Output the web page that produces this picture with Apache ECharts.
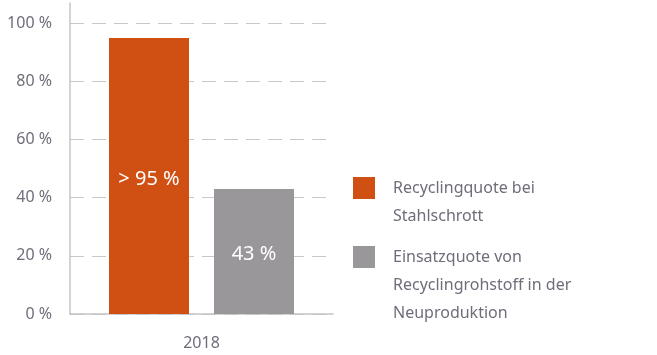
<!DOCTYPE html>
<html><head><meta charset="utf-8">
<script src="https://cdn.jsdelivr.net/npm/echarts@6/dist/echarts.min.js"></script>
<style>html,body{margin:0;padding:0;background:#fff}#c{width:657px;height:355px}</style>
</head><body><div id="c"></div>
<script>
const categories = ['2018'];
const seriesNames = ['Recyclingquote bei Stahlschrott', 'Einsatzquote von Recyclingrohstoff in der Neuproduktion'];
const legendLabels = ['Recyclingquote bei\nStahlschrott', 'Einsatzquote von\nRecyclingrohstoff in der\nNeuproduktion'];
const recyclingquote = [95];
const einsatzquote = [43];
const yTicks = [0, 20, 40, 60, 80, 100];

const FONT = 'Noto Sans';
const TXT = '#6e6e7a';
const chart = echarts.init(document.getElementById('c'), null, {renderer: 'canvas'});
const legendBase = {
  orient: 'vertical', left: 353, itemWidth: 22, itemHeight: 22, padding: 0,
  icon: 'rect', selectedMode: false
};
const legendText = {color: TXT, fontSize: 16, fontFamily: FONT, lineHeight: 28, padding: [0, 0, 0, 13]};
chart.setOption({
  animation: false,
  textStyle: {fontFamily: FONT},
  grid: {left: 70, right: 324, top: 3, bottom: 41},
  legend: [
    Object.assign({}, legendBase, {top: 146, data: [seriesNames[0]], textStyle: legendText,
      formatter: n => '\n' + legendLabels[0]}),
    Object.assign({}, legendBase, {top: 187, data: [seriesNames[1]], textStyle: legendText,
      formatter: n => '\n\n' + legendLabels[1]})
  ],
  xAxis: {
    type: 'category', data: categories,
    axisLine: {lineStyle: {color: '#c4c4c8', width: 1.5}},
    axisTick: {show: false},
    axisLabel: {color: TXT, fontSize: 16, margin: 21}
  },
  yAxis: {
    type: 'value', min: 0, max: 107, interval: 20,
    axisLine: {show: true, lineStyle: {color: '#c4c4c8', width: 1.5}},
    axisTick: {show: false},
    axisLabel: {color: TXT, fontSize: 16, margin: 18, showMaxLabel: false,
      formatter: v => yTicks.indexOf(v) >= 0 ? v + ' %' : ''},
    splitLine: {show: true, showMaxLine: false, lineStyle: {color: '#c8c8cc', type: [14, 8], width: 1.2}}
  },
  series: [
    {name: seriesNames[0], type: 'bar', data: recyclingquote, barWidth: 80, barGap: '31.25%',
      itemStyle: {color: '#d05014'},
      label: {show: true, position: 'inside', offset: [0, 3], color: '#fff', fontSize: 20, formatter: p => '> ' + p.value + ' %'}},
    {name: seriesNames[1], type: 'bar', data: einsatzquote, barWidth: 80,
      itemStyle: {color: '#99979a'},
      label: {show: true, position: 'inside', offset: [0, 3], color: '#fff', fontSize: 20, formatter: p => p.value + ' %'}}
  ]
});
</script></body></html>
